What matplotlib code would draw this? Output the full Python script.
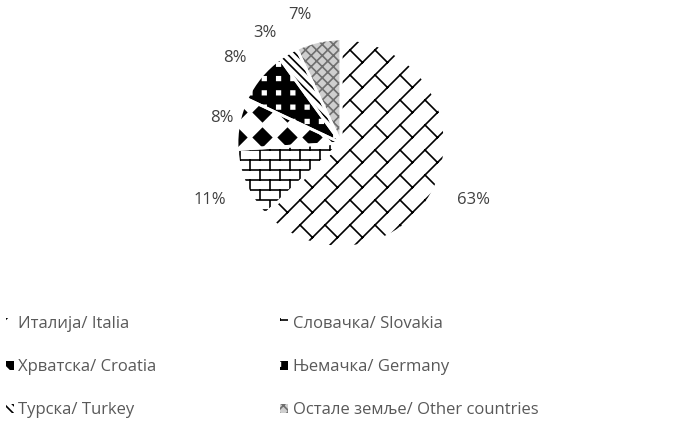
import numpy as np
import matplotlib.pyplot as plt
from matplotlib import hatch as mhatch
from matplotlib.path import Path

plt.rcParams['font.family'] = ['Open Sans', 'DejaVu Sans']
plt.rcParams['hatch.linewidth'] = 1.2

labels = ['Италија/ Italia', 'Словачка/ Slovakia', 'Хрватска/ Croatia',
          'Њемачка/ Germany', 'Турска/ Turkey', 'Остале земље/ Other countries']
shares = [63, 11, 8, 8, 3, 7]

hatches = ['O', 'o', '*', '.', '\\\\\\\\', 'xxx']
faces = ['white', 'white', 'white', 'black', 'white', '#cfcfcf']
hatch_cols = ['black', 'black', 'black', 'white', 'black', '#6f6f6f']

# where the percent labels sit (radius multiples, angle nudge in degrees)
label_dist = [1.39, 1.37, 1.17, 1.31, 1.29, 1.29]
label_nudge = [0, 0, -1, 1, 4, 5]


# --- custom hatch patterns (tile = unit square) ---
def flat_bricks(nx=5, ny=10):
    segs = [[(0, j / ny), (1, j / ny)] for j in range(ny + 1)]
    for j in range(ny):
        for i in range(-1, nx + 1):
            x = (i + 0.5 * (j % 2)) / nx
            segs.append([(x, j / ny), (x, (j + 1) / ny)])
    return np.array(segs, float)


def diag_bricks(m=4):
    # '/' mortar lines with short '\' joints, every other row shifted half a brick
    segs = [[(k / m, 0), (k / m + 1, 1)] for k in range(-m, m + 1)]
    d = 1 / (2 * m)
    for k in range(-m, m + 1):
        for s in range(-1, m + 2):
            y0 = s / m
            x0 = y0 + k / m
            segs.append([(x0, y0), (x0 + d, y0 - d)])
    return np.array(segs, float)


def boxes(nx, ny, w, h):
    polys = []
    for i in range(nx):
        for j in range(ny):
            cx, cy = (i + 0.5) / nx, (j + 0.5) / ny
            polys.append([(cx - w, cy - h), (cx + w, cy - h), (cx + w, cy + h),
                          (cx - w, cy + h), (cx - w, cy - h)])
    return np.array(polys, float)


def diamonds(nx, ny, w, h):
    polys = []
    for i in range(nx):
        for j in range(ny):
            cx, cy = (i + 0.5) / nx, (j + 0.5) / ny
            polys.append([(cx, cy + h), (cx + w, cy), (cx, cy - h), (cx - w, cy), (cx, cy + h)])
    return np.array(polys, float)


def segment_hatch(char, segs):
    class SegHatch(mhatch.HatchPatternBase):
        def __init__(self, hatch, density):
            self.num_vertices = len(segs) * 2 if char in hatch else 0

        def set_vertices_and_codes(self, vertices, codes):
            vertices[:] = segs.reshape(-1, 2)
            codes[0::2] = Path.MOVETO
            codes[1::2] = Path.LINETO
    return SegHatch


def polygon_hatch(char, polys):
    class PolyHatch(mhatch.HatchPatternBase):
        def __init__(self, hatch, density):
            self.num_vertices = polys.shape[0] * polys.shape[1] if char in hatch else 0

        def set_vertices_and_codes(self, vertices, codes):
            vertices[:] = polys.reshape(-1, 2)
            c = codes.reshape(polys.shape[0], polys.shape[1])
            c[:] = Path.LINETO
            c[:, 0] = Path.MOVETO
            c[:, -1] = Path.CLOSEPOLY
    return PolyHatch


swap = {mhatch.LargeCircles: segment_hatch('O', diag_bricks()),
        mhatch.SmallCircles: segment_hatch('o', flat_bricks()),
        mhatch.Stars: polygon_hatch('*', diamonds(4, 4, 0.09, 0.09)),
        mhatch.SmallFilledCircles: polygon_hatch('.', boxes(7, 7, 0.018, 0.018))}
mhatch._hatch_types = [swap.get(t, t) for t in mhatch._hatch_types]

fig = plt.figure(figsize=(6.84, 4.23), dpi=100)
ax = fig.add_axes([(341 - 104) / 684, (423 - 247) / 423, 208 / 684, 208 / 423])

wedges, texts, pcts = ax.pie(shares, startangle=90, counterclock=False,
                             autopct='%1.0f%%',
                             textprops=dict(color='#404040', fontsize=12),
                             wedgeprops=dict(linewidth=0))
for w, h, fc, hc in zip(wedges, hatches, faces, hatch_cols):
    w.set_facecolor(fc)
    w.set_edgecolor(hc)
    w.set_hatch(h)

for w, t, d, n in zip(wedges, pcts, label_dist, label_nudge):
    a = np.deg2rad((w.theta1 + w.theta2) / 2 + n)
    t.set_position((d * np.cos(a), d * np.sin(a)))

# white gaps between slices
ax.pie(shares, startangle=90, counterclock=False,
       wedgeprops=dict(fill=False, edgecolor='white', linewidth=2))
ax.set_xlim(-1, 1)
ax.set_ylim(-1, 1)

# legend: two columns, filled row by row
order = [0, 2, 4, 1, 3, 5]
fig.legend([wedges[i] for i in order], [labels[i] for i in order], ncol=2,
           loc='upper left', bbox_to_anchor=(6 / 684, 0.252), frameon=False,
           borderpad=0, borderaxespad=0,
           fontsize=12, labelcolor='#595959', handlelength=0.45, handleheight=0.45,
           handletextpad=0.3, columnspacing=7.4, labelspacing=1.62)

fig.savefig('out.png', dpi=100)
